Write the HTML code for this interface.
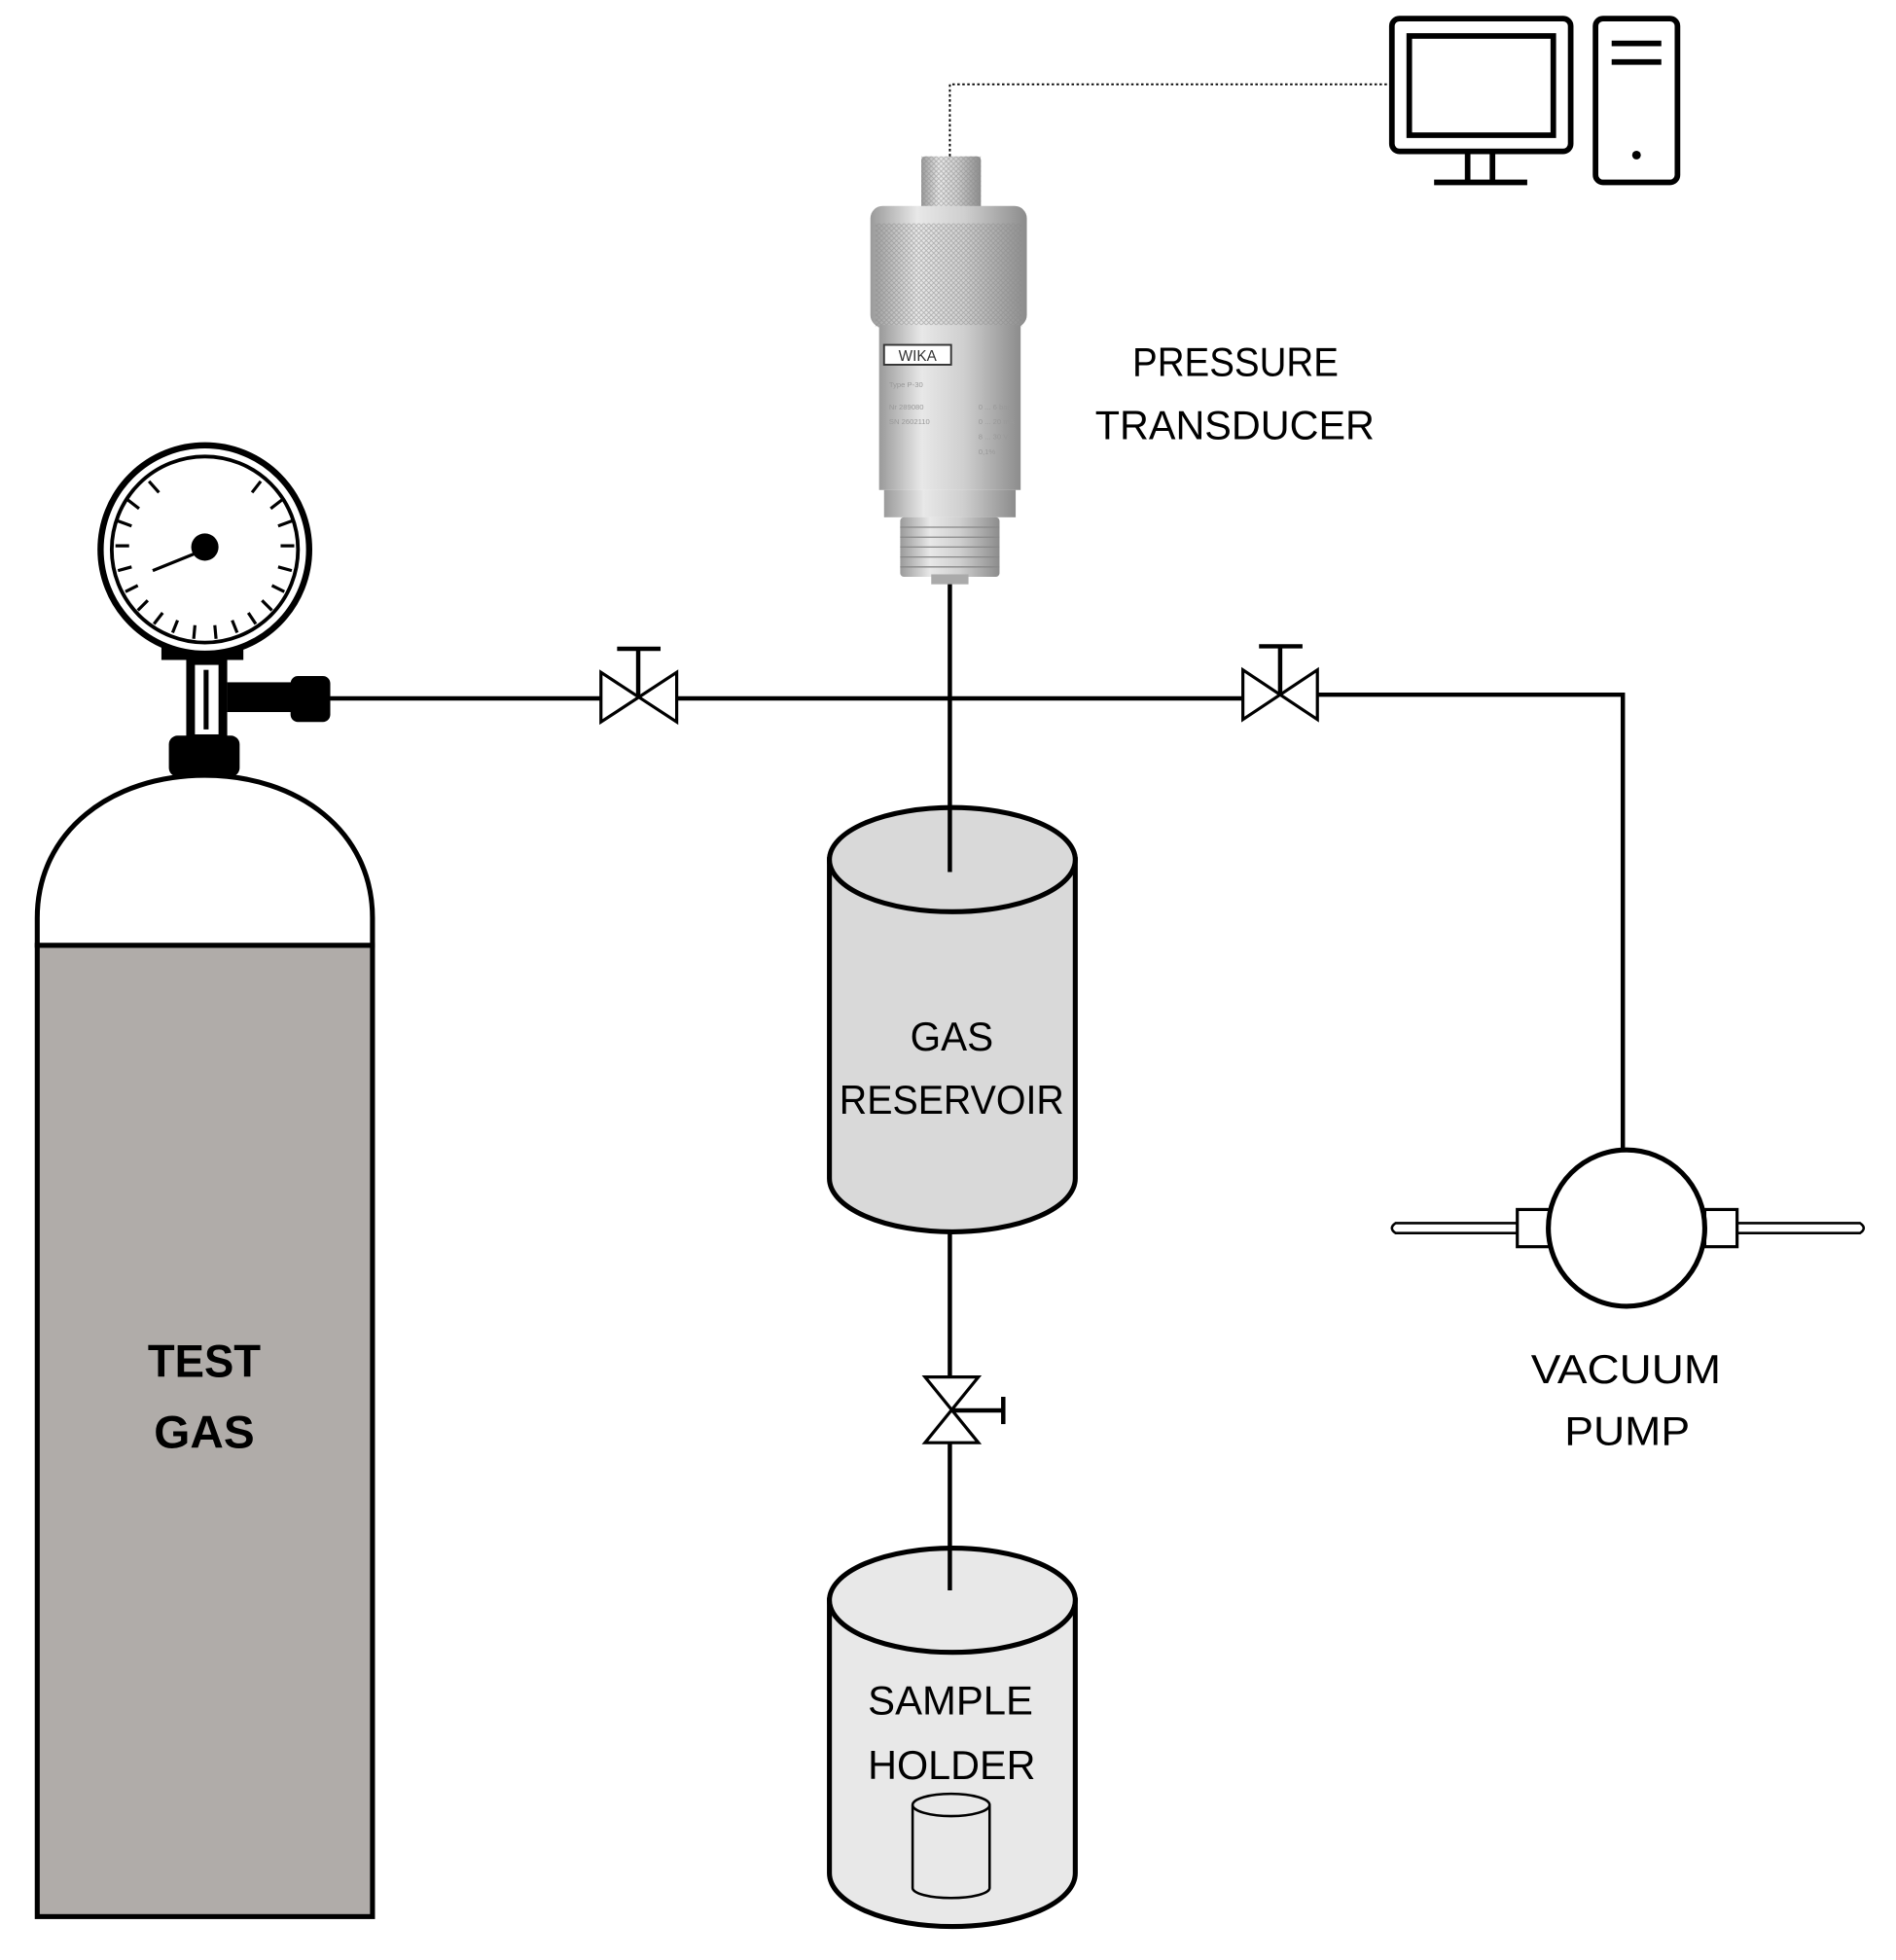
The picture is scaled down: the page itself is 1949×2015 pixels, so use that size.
<!DOCTYPE html>
<html><head><meta charset="utf-8"><style>html,body{margin:0;padding:0;background:#fff}svg{display:block}</style></head>
<body>
<svg width="1949" height="2015" viewBox="0 0 1527 1580" preserveAspectRatio="none" xmlns="http://www.w3.org/2000/svg" font-family="Liberation Sans, sans-serif">
<defs>
<linearGradient id="met" x1="0" x2="1" y1="0" y2="0">
<stop offset="0" stop-color="#9a9a9a"/><stop offset="0.3" stop-color="#e8e8e8"/><stop offset="0.6" stop-color="#cfcfcf"/><stop offset="1" stop-color="#8c8c8c"/>
</linearGradient>
<pattern id="knurl" width="4" height="4" patternUnits="userSpaceOnUse"><rect width="4" height="4" fill="none"/><path d="M0,0L4,4M4,0L0,4" stroke="#888" stroke-width="0.6" opacity="0.6"/></pattern>
</defs>
<!-- cylinder -->
<rect x="30" y="762" width="270" height="783" fill="#b0aca9" stroke="#000" stroke-width="4"/>
<path d="M30,762 L30,740 C30,670 90,625 165,625 C240,625 300,670 300,740 L300,762 Z" fill="#fff" stroke="#000" stroke-width="4"/>
<text x="119" y="1110" font-size="37" font-weight="bold" textLength="91" lengthAdjust="spacingAndGlyphs">TEST</text>
<text x="124" y="1167" font-size="37" font-weight="bold" textLength="81" lengthAdjust="spacingAndGlyphs">GAS</text>
<!-- regulator -->
<rect x="136" y="593" width="57" height="33" rx="7" fill="#000"/>
<rect x="150" y="530" width="33" height="68" fill="#000"/>
<rect x="157" y="536" width="19" height="56" fill="#fff"/>
<rect x="164" y="540" width="4" height="48" fill="#000"/>
<rect x="183" y="550" width="57" height="24" fill="#000"/>
<rect x="234" y="545" width="32" height="37" rx="6" fill="#000"/>
<rect x="130" y="510" width="66" height="22" fill="#000"/>
<!-- gauge -->
<circle cx="165" cy="443" r="84" fill="#fff" stroke="#000" stroke-width="5"/>
<circle cx="165" cy="443" r="75" fill="#fff" stroke="#000" stroke-width="3"/>
<g stroke="#000" stroke-width="2.5">
<path d="M103,403 L112,410 M95,420 L106,424 M93,440 L104,440 M95,460 L106,457 M101,477 L111,472 M111,492 L119,484 M124,503 L131,494 M139,510 L143,500 M156,515 L157,504 M174,515 L173,504 M191,510 L187,500 M206,503 L200,494 M219,492 L211,484 M229,477 L219,472 M235,460 L224,457 M237,440 L226,440 M235,420 L224,424 M227,403 L218,410 M210,388 L203,397"/>
<path d="M120,388 L128,397"/>
<line x1="165" y1="443" x2="123" y2="460" stroke-width="2.5"/>
</g>
<circle cx="165" cy="441" r="11" fill="#000"/>
<!-- main line -->
<g stroke="#000" stroke-width="3.5" fill="none">
<line x1="266" y1="563" x2="483" y2="563"/>
<line x1="545" y1="563" x2="1000" y2="563"/>
<polyline points="1061,560 1307,560 1307,927"/>
<line x1="765" y1="470" x2="765" y2="703"/>
<line x1="765" y1="993" x2="765" y2="1110"/>
<line x1="765" y1="1163" x2="765" y2="1282"/>
</g>
<!-- valves -->
<g stroke="#000" stroke-width="2.5" fill="#fff">
<path d="M484,542 L545,582 L545,542 L484,582 Z"/>
<path d="M1001,540 L1061,580 L1061,540 L1001,580 Z"/>
<path d="M745,1110 L788,1163 L745,1163 L788,1110 Z"/>
</g>
<g stroke="#000" stroke-width="3.5">
<line x1="514" y1="562" x2="514" y2="523"/><line x1="497" y1="523" x2="532" y2="523"/>
<line x1="1031" y1="560" x2="1031" y2="521"/><line x1="1014" y1="521" x2="1049" y2="521"/>
<line x1="766" y1="1137" x2="808" y2="1137"/><line x1="808" y1="1126" x2="808" y2="1148"/>
</g>
<!-- pump -->
<g stroke="#000" stroke-width="2" fill="#fff">
<path d="M1124,986 L1222,986 L1222,994 L1124,994 Q1118,990 1124,986 Z"/>
<path d="M1398,986 L1498,986 Q1504,990 1498,994 L1398,994 Z"/>
<rect x="1222" y="975" width="26" height="30" stroke-width="2.5"/>
<rect x="1373" y="975" width="26" height="30" stroke-width="2.5"/>
</g>
<circle cx="1310" cy="990" r="63" fill="#fff" stroke="#000" stroke-width="4"/>
<text x="1233" y="1115" font-size="33" textLength="153" lengthAdjust="spacingAndGlyphs">VACUUM</text>
<text x="1260" y="1165" font-size="33" textLength="101" lengthAdjust="spacingAndGlyphs">PUMP</text>
<!-- reservoir -->
<path d="M668,693 L668,950 A99,43 0 0 0 866,950 L866,693 Z" fill="#d9d9d9" stroke="#000" stroke-width="4"/>
<ellipse cx="767" cy="693" rx="99" ry="42" fill="#d9d9d9" stroke="#000" stroke-width="4"/>
<line x1="765" y1="651" x2="765" y2="703" stroke="#000" stroke-width="3.5"/>
<text x="733" y="847" font-size="33" textLength="67" lengthAdjust="spacingAndGlyphs">GAS</text>
<text x="676" y="898" font-size="33" textLength="181" lengthAdjust="spacingAndGlyphs">RESERVOIR</text>
<!-- sample holder -->
<path d="M668,1290 L668,1510 A99,43 0 0 0 866,1510 L866,1290 Z" fill="#e8e8e8" stroke="#000" stroke-width="4"/>
<ellipse cx="767" cy="1290" rx="99" ry="42" fill="#e8e8e8" stroke="#000" stroke-width="4"/>
<line x1="765" y1="1248" x2="765" y2="1282" stroke="#000" stroke-width="3.5"/>
<text x="699" y="1382" font-size="33" textLength="133" lengthAdjust="spacingAndGlyphs">SAMPLE</text>
<text x="699" y="1434" font-size="33" textLength="135" lengthAdjust="spacingAndGlyphs">HOLDER</text>
<path d="M735,1455 L735,1522 A31,8 0 0 0 797,1522 L797,1455" fill="#e8e8e8" stroke="#000" stroke-width="2"/>
<ellipse cx="766" cy="1455" rx="31" ry="9" fill="#e8e8e8" stroke="#000" stroke-width="2"/>
<!-- transducer -->
<rect x="742" y="126" width="48" height="44" rx="3" fill="url(#met)"/>
<rect x="742" y="126" width="48" height="44" fill="url(#knurl)"/>
<rect x="701" y="166" width="126" height="98" rx="10" fill="url(#met)"/>
<rect x="705" y="180" width="118" height="84" fill="url(#knurl)"/>
<rect x="708" y="262" width="114" height="133" fill="url(#met)"/>
<rect x="712" y="278" width="54" height="16" fill="#fff" stroke="#333" stroke-width="1.5"/>
<text x="739" y="291" font-size="12" text-anchor="middle" fill="#333">WIKA</text>
<g fill="#999" font-size="6"><text x="716" y="312">Type P-30</text><text x="716" y="330">Nr 289080</text><text x="716" y="342">SN 2602110</text><text x="788" y="330">0 ... 6 bar</text><text x="788" y="342">0 ... 20 mA</text><text x="788" y="354">8 ... 30 V</text><text x="788" y="366">0,1%</text></g>
<rect x="712" y="395" width="106" height="22" fill="url(#met)"/>
<rect x="725" y="417" width="80" height="48" rx="3" fill="url(#met)"/>
<g stroke="#888" stroke-width="1"><line x1="725" y1="425" x2="805" y2="425"/><line x1="725" y1="433" x2="805" y2="433"/><line x1="725" y1="441" x2="805" y2="441"/><line x1="725" y1="449" x2="805" y2="449"/><line x1="725" y1="457" x2="805" y2="457"/></g>
<rect x="750" y="463" width="30" height="8" fill="#aaa"/>
<!-- dotted cable -->
<polyline points="765,126 765,68 1120,68" fill="none" stroke="#000" stroke-width="1.5" stroke-dasharray="2,2"/>
<!-- computer -->
<g fill="none" stroke="#000" stroke-width="4.5">
<rect x="1121" y="15" width="144" height="107" rx="6"/>
<rect x="1135" y="29" width="116" height="80"/>
<path d="M1182,122 L1182,146 M1202,122 L1202,146 M1155,147 L1230,147"/>
<rect x="1285" y="15" width="66" height="132" rx="6"/>
<path d="M1298,35 L1338,35 M1298,50 L1338,50"/>
</g>
<circle cx="1318" cy="125" r="3.5" fill="#000"/>
<text x="912" y="303" font-size="33" textLength="166" lengthAdjust="spacingAndGlyphs">PRESSURE</text>
<text x="882" y="354" font-size="33" textLength="225" lengthAdjust="spacingAndGlyphs">TRANSDUCER</text>
</svg>
</body></html>
